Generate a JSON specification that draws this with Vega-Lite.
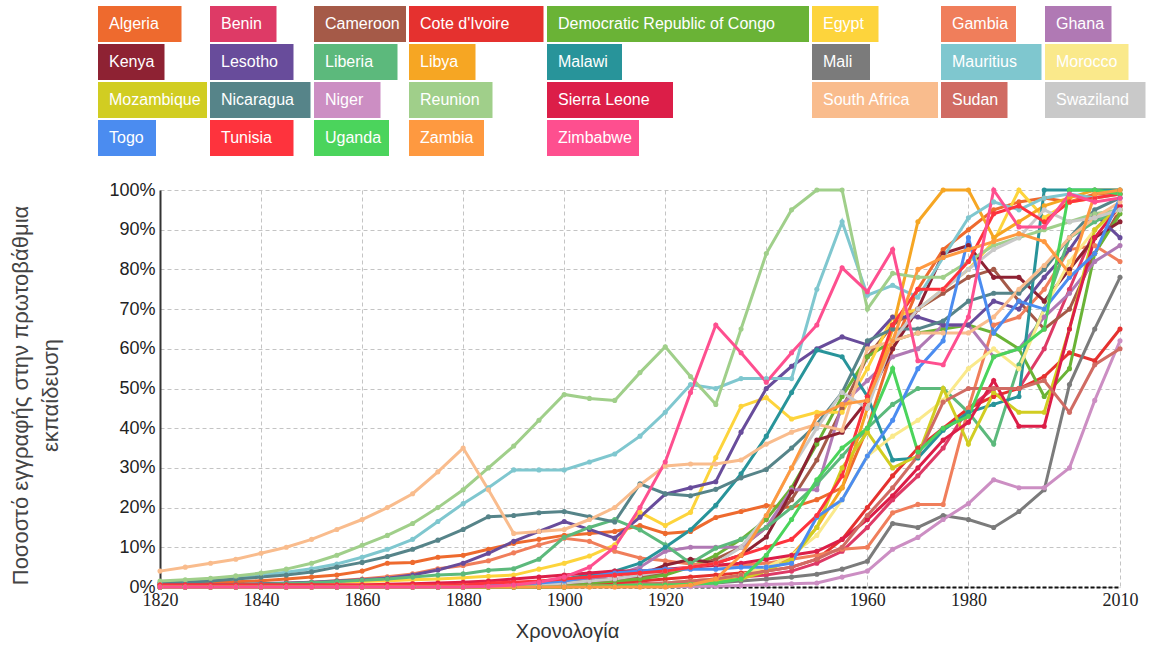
{
"$schema": "https://vega.github.io/schema/vega-lite/v6.json",
"width": 960,
"height": 397,
"autosize": {"type": "none"},
"padding": {"left": 160, "top": 190, "right": 34, "bottom": 65},
"background": "white",
"config": {"font": "Arial", "view": {"stroke": null}},
"data": {"values": [
{"c":"Algeria","y":1820,"v":0.5},{"c":"Algeria","y":1825,"v":0.8},{"c":"Algeria","y":1830,"v":1},{"c":"Algeria","y":1835,"v":1.3},{"c":"Algeria","y":1840,"v":1.6},{"c":"Algeria","y":1845,"v":2},{"c":"Algeria","y":1850,"v":2.5},{"c":"Algeria","y":1855,"v":3},{"c":"Algeria","y":1860,"v":4},{"c":"Algeria","y":1865,"v":6},{"c":"Algeria","y":1870,"v":6.2},{"c":"Algeria","y":1875,"v":7.5},{"c":"Algeria","y":1880,"v":8},{"c":"Algeria","y":1885,"v":9.5},{"c":"Algeria","y":1890,"v":11},{"c":"Algeria","y":1895,"v":12},{"c":"Algeria","y":1900,"v":13},{"c":"Algeria","y":1905,"v":13.5},{"c":"Algeria","y":1910,"v":14},{"c":"Algeria","y":1915,"v":15.5},{"c":"Algeria","y":1920,"v":13.5},{"c":"Algeria","y":1925,"v":14},{"c":"Algeria","y":1930,"v":17.5},{"c":"Algeria","y":1935,"v":19},{"c":"Algeria","y":1940,"v":20.5},{"c":"Algeria","y":1945,"v":20},{"c":"Algeria","y":1950,"v":22},{"c":"Algeria","y":1955,"v":25},{"c":"Algeria","y":1960,"v":40},{"c":"Algeria","y":1965,"v":60},{"c":"Algeria","y":1970,"v":75},{"c":"Algeria","y":1975,"v":85},{"c":"Algeria","y":1980,"v":90},{"c":"Algeria","y":1985,"v":95},{"c":"Algeria","y":1990,"v":97},{"c":"Algeria","y":1995,"v":98},{"c":"Algeria","y":2000,"v":97},{"c":"Algeria","y":2005,"v":99},{"c":"Algeria","y":2010,"v":99},
{"c":"Benin","y":1820,"v":0.1},{"c":"Benin","y":1825,"v":0.1},{"c":"Benin","y":1830,"v":0.1},{"c":"Benin","y":1835,"v":0.1},{"c":"Benin","y":1840,"v":0.1},{"c":"Benin","y":1845,"v":0.1},{"c":"Benin","y":1850,"v":0.1},{"c":"Benin","y":1855,"v":0.1},{"c":"Benin","y":1860,"v":0.1},{"c":"Benin","y":1865,"v":0.1},{"c":"Benin","y":1870,"v":0.1},{"c":"Benin","y":1875,"v":0.1},{"c":"Benin","y":1880,"v":0.1},{"c":"Benin","y":1885,"v":0.1},{"c":"Benin","y":1890,"v":0.1},{"c":"Benin","y":1895,"v":0.1},{"c":"Benin","y":1900,"v":0.1},{"c":"Benin","y":1905,"v":0.3},{"c":"Benin","y":1910,"v":0.5},{"c":"Benin","y":1915,"v":0.8},{"c":"Benin","y":1920,"v":1},{"c":"Benin","y":1925,"v":1.5},{"c":"Benin","y":1930,"v":2},{"c":"Benin","y":1935,"v":2.5},{"c":"Benin","y":1940,"v":3},{"c":"Benin","y":1945,"v":4},{"c":"Benin","y":1950,"v":6},{"c":"Benin","y":1955,"v":9},{"c":"Benin","y":1960,"v":15},{"c":"Benin","y":1965,"v":22},{"c":"Benin","y":1970,"v":28},{"c":"Benin","y":1975,"v":35},{"c":"Benin","y":1980,"v":45},{"c":"Benin","y":1985,"v":50},{"c":"Benin","y":1990,"v":50},{"c":"Benin","y":1995,"v":60},{"c":"Benin","y":2000,"v":75},{"c":"Benin","y":2005,"v":90},{"c":"Benin","y":2010,"v":96},
{"c":"Cameroon","y":1820,"v":0.1},{"c":"Cameroon","y":1825,"v":0.1},{"c":"Cameroon","y":1830,"v":0.1},{"c":"Cameroon","y":1835,"v":0.1},{"c":"Cameroon","y":1840,"v":0.1},{"c":"Cameroon","y":1845,"v":0.1},{"c":"Cameroon","y":1850,"v":0.1},{"c":"Cameroon","y":1855,"v":0.1},{"c":"Cameroon","y":1860,"v":0.1},{"c":"Cameroon","y":1865,"v":0.1},{"c":"Cameroon","y":1870,"v":0.1},{"c":"Cameroon","y":1875,"v":0.1},{"c":"Cameroon","y":1880,"v":0.1},{"c":"Cameroon","y":1885,"v":0.1},{"c":"Cameroon","y":1890,"v":0.1},{"c":"Cameroon","y":1895,"v":0.5},{"c":"Cameroon","y":1900,"v":1},{"c":"Cameroon","y":1905,"v":1.5},{"c":"Cameroon","y":1910,"v":2},{"c":"Cameroon","y":1915,"v":2.5},{"c":"Cameroon","y":1920,"v":3.5},{"c":"Cameroon","y":1925,"v":5},{"c":"Cameroon","y":1930,"v":7},{"c":"Cameroon","y":1935,"v":10},{"c":"Cameroon","y":1940,"v":15},{"c":"Cameroon","y":1945,"v":22},{"c":"Cameroon","y":1950,"v":32},{"c":"Cameroon","y":1955,"v":45},{"c":"Cameroon","y":1960,"v":58},{"c":"Cameroon","y":1965,"v":66},{"c":"Cameroon","y":1970,"v":70},{"c":"Cameroon","y":1975,"v":74},{"c":"Cameroon","y":1980,"v":78},{"c":"Cameroon","y":1985,"v":80},{"c":"Cameroon","y":1990,"v":72},{"c":"Cameroon","y":1995,"v":65},{"c":"Cameroon","y":2000,"v":70},{"c":"Cameroon","y":2005,"v":84},{"c":"Cameroon","y":2010,"v":95},
{"c":"Cote d'Ivoire","y":1820,"v":0},{"c":"Cote d'Ivoire","y":1825,"v":0},{"c":"Cote d'Ivoire","y":1830,"v":0},{"c":"Cote d'Ivoire","y":1835,"v":0},{"c":"Cote d'Ivoire","y":1840,"v":0},{"c":"Cote d'Ivoire","y":1845,"v":0},{"c":"Cote d'Ivoire","y":1850,"v":0},{"c":"Cote d'Ivoire","y":1855,"v":0},{"c":"Cote d'Ivoire","y":1860,"v":0},{"c":"Cote d'Ivoire","y":1865,"v":0},{"c":"Cote d'Ivoire","y":1870,"v":0},{"c":"Cote d'Ivoire","y":1875,"v":0},{"c":"Cote d'Ivoire","y":1880,"v":0},{"c":"Cote d'Ivoire","y":1885,"v":0},{"c":"Cote d'Ivoire","y":1890,"v":0},{"c":"Cote d'Ivoire","y":1895,"v":0},{"c":"Cote d'Ivoire","y":1900,"v":0},{"c":"Cote d'Ivoire","y":1905,"v":0.5},{"c":"Cote d'Ivoire","y":1910,"v":1},{"c":"Cote d'Ivoire","y":1915,"v":1.5},{"c":"Cote d'Ivoire","y":1920,"v":2},{"c":"Cote d'Ivoire","y":1925,"v":2.5},{"c":"Cote d'Ivoire","y":1930,"v":3},{"c":"Cote d'Ivoire","y":1935,"v":3.5},{"c":"Cote d'Ivoire","y":1940,"v":4},{"c":"Cote d'Ivoire","y":1945,"v":5},{"c":"Cote d'Ivoire","y":1950,"v":7},{"c":"Cote d'Ivoire","y":1955,"v":12},{"c":"Cote d'Ivoire","y":1960,"v":20},{"c":"Cote d'Ivoire","y":1965,"v":28},{"c":"Cote d'Ivoire","y":1970,"v":35},{"c":"Cote d'Ivoire","y":1975,"v":40},{"c":"Cote d'Ivoire","y":1980,"v":45},{"c":"Cote d'Ivoire","y":1985,"v":48},{"c":"Cote d'Ivoire","y":1990,"v":50},{"c":"Cote d'Ivoire","y":1995,"v":53},{"c":"Cote d'Ivoire","y":2000,"v":59},{"c":"Cote d'Ivoire","y":2005,"v":57},{"c":"Cote d'Ivoire","y":2010,"v":65},
{"c":"Democratic Republic of Congo","y":1820,"v":0},{"c":"Democratic Republic of Congo","y":1825,"v":0},{"c":"Democratic Republic of Congo","y":1830,"v":0},{"c":"Democratic Republic of Congo","y":1835,"v":0},{"c":"Democratic Republic of Congo","y":1840,"v":0},{"c":"Democratic Republic of Congo","y":1845,"v":0},{"c":"Democratic Republic of Congo","y":1850,"v":0},{"c":"Democratic Republic of Congo","y":1855,"v":0},{"c":"Democratic Republic of Congo","y":1860,"v":0},{"c":"Democratic Republic of Congo","y":1865,"v":0},{"c":"Democratic Republic of Congo","y":1870,"v":0},{"c":"Democratic Republic of Congo","y":1875,"v":0},{"c":"Democratic Republic of Congo","y":1880,"v":0},{"c":"Democratic Republic of Congo","y":1885,"v":0},{"c":"Democratic Republic of Congo","y":1890,"v":0},{"c":"Democratic Republic of Congo","y":1895,"v":0.3},{"c":"Democratic Republic of Congo","y":1900,"v":0.5},{"c":"Democratic Republic of Congo","y":1905,"v":1},{"c":"Democratic Republic of Congo","y":1910,"v":1.5},{"c":"Democratic Republic of Congo","y":1915,"v":2},{"c":"Democratic Republic of Congo","y":1920,"v":3},{"c":"Democratic Republic of Congo","y":1925,"v":5},{"c":"Democratic Republic of Congo","y":1930,"v":8},{"c":"Democratic Republic of Congo","y":1935,"v":12},{"c":"Democratic Republic of Congo","y":1940,"v":17},{"c":"Democratic Republic of Congo","y":1945,"v":25},{"c":"Democratic Republic of Congo","y":1950,"v":36},{"c":"Democratic Republic of Congo","y":1955,"v":48},{"c":"Democratic Republic of Congo","y":1960,"v":58},{"c":"Democratic Republic of Congo","y":1965,"v":62},{"c":"Democratic Republic of Congo","y":1970,"v":64},{"c":"Democratic Republic of Congo","y":1975,"v":65},{"c":"Democratic Republic of Congo","y":1980,"v":66},{"c":"Democratic Republic of Congo","y":1985,"v":64},{"c":"Democratic Republic of Congo","y":1990,"v":60},{"c":"Democratic Republic of Congo","y":1995,"v":48},{"c":"Democratic Republic of Congo","y":2000,"v":55},{"c":"Democratic Republic of Congo","y":2005,"v":84},{"c":"Democratic Republic of Congo","y":2010,"v":94},
{"c":"Egypt","y":1820,"v":0.2},{"c":"Egypt","y":1825,"v":0.3},{"c":"Egypt","y":1830,"v":0.4},{"c":"Egypt","y":1835,"v":0.5},{"c":"Egypt","y":1840,"v":0.6},{"c":"Egypt","y":1845,"v":0.8},{"c":"Egypt","y":1850,"v":1},{"c":"Egypt","y":1855,"v":1.2},{"c":"Egypt","y":1860,"v":1.4},{"c":"Egypt","y":1865,"v":1.6},{"c":"Egypt","y":1870,"v":1.8},{"c":"Egypt","y":1875,"v":2},{"c":"Egypt","y":1880,"v":2.3},{"c":"Egypt","y":1885,"v":2.7},{"c":"Egypt","y":1890,"v":3},{"c":"Egypt","y":1895,"v":4.5},{"c":"Egypt","y":1900,"v":6},{"c":"Egypt","y":1905,"v":7.8},{"c":"Egypt","y":1910,"v":10.6},{"c":"Egypt","y":1915,"v":18.8},{"c":"Egypt","y":1920,"v":15.5},{"c":"Egypt","y":1925,"v":18.8},{"c":"Egypt","y":1930,"v":32.6},{"c":"Egypt","y":1935,"v":45.5},{"c":"Egypt","y":1940,"v":47.7},{"c":"Egypt","y":1945,"v":42.3},{"c":"Egypt","y":1950,"v":44},{"c":"Egypt","y":1955,"v":44},{"c":"Egypt","y":1960,"v":55},{"c":"Egypt","y":1965,"v":68},{"c":"Egypt","y":1970,"v":70},{"c":"Egypt","y":1975,"v":75},{"c":"Egypt","y":1980,"v":80},{"c":"Egypt","y":1985,"v":87},{"c":"Egypt","y":1990,"v":100},{"c":"Egypt","y":1995,"v":93},{"c":"Egypt","y":2000,"v":97},{"c":"Egypt","y":2005,"v":98},{"c":"Egypt","y":2010,"v":99},
{"c":"Gambia","y":1820,"v":0.2},{"c":"Gambia","y":1825,"v":0.3},{"c":"Gambia","y":1830,"v":0.4},{"c":"Gambia","y":1835,"v":0.5},{"c":"Gambia","y":1840,"v":0.7},{"c":"Gambia","y":1845,"v":0.9},{"c":"Gambia","y":1850,"v":1.2},{"c":"Gambia","y":1855,"v":1.6},{"c":"Gambia","y":1860,"v":2},{"c":"Gambia","y":1865,"v":2.6},{"c":"Gambia","y":1870,"v":3.3},{"c":"Gambia","y":1875,"v":4.6},{"c":"Gambia","y":1880,"v":5.4},{"c":"Gambia","y":1885,"v":6.6},{"c":"Gambia","y":1890,"v":8.6},{"c":"Gambia","y":1895,"v":10.6},{"c":"Gambia","y":1900,"v":12.3},{"c":"Gambia","y":1905,"v":11.5},{"c":"Gambia","y":1910,"v":9},{"c":"Gambia","y":1915,"v":7.3},{"c":"Gambia","y":1920,"v":6.6},{"c":"Gambia","y":1925,"v":5.8},{"c":"Gambia","y":1930,"v":5.5},{"c":"Gambia","y":1935,"v":5.5},{"c":"Gambia","y":1940,"v":6},{"c":"Gambia","y":1945,"v":7},{"c":"Gambia","y":1950,"v":8},{"c":"Gambia","y":1955,"v":9.5},{"c":"Gambia","y":1960,"v":10},{"c":"Gambia","y":1965,"v":18.7},{"c":"Gambia","y":1970,"v":20.8},{"c":"Gambia","y":1975,"v":20.8},{"c":"Gambia","y":1980,"v":45},{"c":"Gambia","y":1985,"v":66},{"c":"Gambia","y":1990,"v":68},{"c":"Gambia","y":1995,"v":75},{"c":"Gambia","y":2000,"v":85},{"c":"Gambia","y":2005,"v":86},{"c":"Gambia","y":2010,"v":82},
{"c":"Ghana","y":1820,"v":0.2},{"c":"Ghana","y":1825,"v":0.2},{"c":"Ghana","y":1830,"v":0.2},{"c":"Ghana","y":1835,"v":0.2},{"c":"Ghana","y":1840,"v":0.2},{"c":"Ghana","y":1845,"v":0.2},{"c":"Ghana","y":1850,"v":0.2},{"c":"Ghana","y":1855,"v":0.2},{"c":"Ghana","y":1860,"v":0.2},{"c":"Ghana","y":1865,"v":0.2},{"c":"Ghana","y":1870,"v":0.2},{"c":"Ghana","y":1875,"v":0.2},{"c":"Ghana","y":1880,"v":0.2},{"c":"Ghana","y":1885,"v":0.3},{"c":"Ghana","y":1890,"v":0.5},{"c":"Ghana","y":1895,"v":0.8},{"c":"Ghana","y":1900,"v":1},{"c":"Ghana","y":1905,"v":2},{"c":"Ghana","y":1910,"v":3},{"c":"Ghana","y":1915,"v":5},{"c":"Ghana","y":1920,"v":9},{"c":"Ghana","y":1925,"v":10},{"c":"Ghana","y":1930,"v":10},{"c":"Ghana","y":1935,"v":10},{"c":"Ghana","y":1940,"v":15},{"c":"Ghana","y":1945,"v":24.5},{"c":"Ghana","y":1950,"v":24.5},{"c":"Ghana","y":1955,"v":46},{"c":"Ghana","y":1960,"v":52},{"c":"Ghana","y":1965,"v":58},{"c":"Ghana","y":1970,"v":60},{"c":"Ghana","y":1975,"v":66},{"c":"Ghana","y":1980,"v":66},{"c":"Ghana","y":1985,"v":58},{"c":"Ghana","y":1990,"v":60},{"c":"Ghana","y":1995,"v":68},{"c":"Ghana","y":2000,"v":74},{"c":"Ghana","y":2005,"v":82},{"c":"Ghana","y":2010,"v":86},
{"c":"Kenya","y":1820,"v":0.2},{"c":"Kenya","y":1825,"v":0.2},{"c":"Kenya","y":1830,"v":0.2},{"c":"Kenya","y":1835,"v":0.2},{"c":"Kenya","y":1840,"v":0.2},{"c":"Kenya","y":1845,"v":0.2},{"c":"Kenya","y":1850,"v":0.2},{"c":"Kenya","y":1855,"v":0.2},{"c":"Kenya","y":1860,"v":0.2},{"c":"Kenya","y":1865,"v":0.2},{"c":"Kenya","y":1870,"v":0.2},{"c":"Kenya","y":1875,"v":0.2},{"c":"Kenya","y":1880,"v":0.2},{"c":"Kenya","y":1885,"v":0.2},{"c":"Kenya","y":1890,"v":0.2},{"c":"Kenya","y":1895,"v":0.5},{"c":"Kenya","y":1900,"v":1},{"c":"Kenya","y":1905,"v":1.5},{"c":"Kenya","y":1910,"v":2},{"c":"Kenya","y":1915,"v":3},{"c":"Kenya","y":1920,"v":5.5},{"c":"Kenya","y":1925,"v":7},{"c":"Kenya","y":1930,"v":6},{"c":"Kenya","y":1935,"v":8},{"c":"Kenya","y":1940,"v":12.6},{"c":"Kenya","y":1945,"v":24},{"c":"Kenya","y":1950,"v":37},{"c":"Kenya","y":1955,"v":39},{"c":"Kenya","y":1960,"v":47},{"c":"Kenya","y":1965,"v":60},{"c":"Kenya","y":1970,"v":70},{"c":"Kenya","y":1975,"v":84},{"c":"Kenya","y":1980,"v":86},{"c":"Kenya","y":1985,"v":78},{"c":"Kenya","y":1990,"v":78},{"c":"Kenya","y":1995,"v":72},{"c":"Kenya","y":2000,"v":80},{"c":"Kenya","y":2005,"v":88},{"c":"Kenya","y":2010,"v":92},
{"c":"Lesotho","y":1820,"v":0.3},{"c":"Lesotho","y":1825,"v":0.4},{"c":"Lesotho","y":1830,"v":0.5},{"c":"Lesotho","y":1835,"v":0.6},{"c":"Lesotho","y":1840,"v":0.8},{"c":"Lesotho","y":1845,"v":1},{"c":"Lesotho","y":1850,"v":1.2},{"c":"Lesotho","y":1855,"v":1.5},{"c":"Lesotho","y":1860,"v":1.8},{"c":"Lesotho","y":1865,"v":2.2},{"c":"Lesotho","y":1870,"v":3},{"c":"Lesotho","y":1875,"v":4.3},{"c":"Lesotho","y":1880,"v":6},{"c":"Lesotho","y":1885,"v":8.5},{"c":"Lesotho","y":1890,"v":11.5},{"c":"Lesotho","y":1895,"v":14},{"c":"Lesotho","y":1900,"v":16.5},{"c":"Lesotho","y":1905,"v":14.5},{"c":"Lesotho","y":1910,"v":12.3},{"c":"Lesotho","y":1915,"v":17.6},{"c":"Lesotho","y":1920,"v":23.4},{"c":"Lesotho","y":1925,"v":25},{"c":"Lesotho","y":1930,"v":26.5},{"c":"Lesotho","y":1935,"v":39},{"c":"Lesotho","y":1940,"v":50},{"c":"Lesotho","y":1945,"v":55.6},{"c":"Lesotho","y":1950,"v":60},{"c":"Lesotho","y":1955,"v":63},{"c":"Lesotho","y":1960,"v":61},{"c":"Lesotho","y":1965,"v":68},{"c":"Lesotho","y":1970,"v":68},{"c":"Lesotho","y":1975,"v":66},{"c":"Lesotho","y":1980,"v":66},{"c":"Lesotho","y":1985,"v":72},{"c":"Lesotho","y":1990,"v":70},{"c":"Lesotho","y":1995,"v":78},{"c":"Lesotho","y":2000,"v":85},{"c":"Lesotho","y":2005,"v":94},{"c":"Lesotho","y":2010,"v":88},
{"c":"Liberia","y":1820,"v":0.3},{"c":"Liberia","y":1825,"v":0.4},{"c":"Liberia","y":1830,"v":0.5},{"c":"Liberia","y":1835,"v":0.6},{"c":"Liberia","y":1840,"v":0.7},{"c":"Liberia","y":1845,"v":0.9},{"c":"Liberia","y":1850,"v":1.1},{"c":"Liberia","y":1855,"v":1.4},{"c":"Liberia","y":1860,"v":1.7},{"c":"Liberia","y":1865,"v":2},{"c":"Liberia","y":1870,"v":2.5},{"c":"Liberia","y":1875,"v":3},{"c":"Liberia","y":1880,"v":3.3},{"c":"Liberia","y":1885,"v":4.2},{"c":"Liberia","y":1890,"v":4.6},{"c":"Liberia","y":1895,"v":7},{"c":"Liberia","y":1900,"v":12.5},{"c":"Liberia","y":1905,"v":15},{"c":"Liberia","y":1910,"v":17},{"c":"Liberia","y":1915,"v":14.4},{"c":"Liberia","y":1920,"v":10.6},{"c":"Liberia","y":1925,"v":6},{"c":"Liberia","y":1930,"v":9.8},{"c":"Liberia","y":1935,"v":12},{"c":"Liberia","y":1940,"v":15},{"c":"Liberia","y":1945,"v":20},{"c":"Liberia","y":1950,"v":26},{"c":"Liberia","y":1955,"v":33},{"c":"Liberia","y":1960,"v":40},{"c":"Liberia","y":1965,"v":46},{"c":"Liberia","y":1970,"v":50},{"c":"Liberia","y":1975,"v":50},{"c":"Liberia","y":1980,"v":44},{"c":"Liberia","y":1985,"v":36},{"c":"Liberia","y":1990,"v":56},{"c":"Liberia","y":1995,"v":70},{"c":"Liberia","y":2000,"v":88},{"c":"Liberia","y":2005,"v":92},{"c":"Liberia","y":2010,"v":95},
{"c":"Libya","y":1820,"v":0.2},{"c":"Libya","y":1825,"v":0.2},{"c":"Libya","y":1830,"v":0.2},{"c":"Libya","y":1835,"v":0.2},{"c":"Libya","y":1840,"v":0.2},{"c":"Libya","y":1845,"v":0.2},{"c":"Libya","y":1850,"v":0.2},{"c":"Libya","y":1855,"v":0.2},{"c":"Libya","y":1860,"v":0.2},{"c":"Libya","y":1865,"v":0.2},{"c":"Libya","y":1870,"v":0.2},{"c":"Libya","y":1875,"v":0.2},{"c":"Libya","y":1880,"v":0.2},{"c":"Libya","y":1885,"v":0.2},{"c":"Libya","y":1890,"v":0.2},{"c":"Libya","y":1895,"v":0.2},{"c":"Libya","y":1900,"v":0.2},{"c":"Libya","y":1905,"v":0.2},{"c":"Libya","y":1910,"v":0.2},{"c":"Libya","y":1915,"v":0.2},{"c":"Libya","y":1920,"v":0.5},{"c":"Libya","y":1925,"v":1},{"c":"Libya","y":1930,"v":2},{"c":"Libya","y":1935,"v":3},{"c":"Libya","y":1940,"v":5},{"c":"Libya","y":1945,"v":8},{"c":"Libya","y":1950,"v":15},{"c":"Libya","y":1955,"v":25},{"c":"Libya","y":1960,"v":45},{"c":"Libya","y":1965,"v":65},{"c":"Libya","y":1970,"v":92},{"c":"Libya","y":1975,"v":100},{"c":"Libya","y":1980,"v":100},{"c":"Libya","y":1985,"v":88},{"c":"Libya","y":1990,"v":92},{"c":"Libya","y":1995,"v":96},{"c":"Libya","y":2000,"v":98},{"c":"Libya","y":2005,"v":100},{"c":"Libya","y":2010,"v":100},
{"c":"Malawi","y":1820,"v":0.1},{"c":"Malawi","y":1825,"v":0.1},{"c":"Malawi","y":1830,"v":0.1},{"c":"Malawi","y":1835,"v":0.1},{"c":"Malawi","y":1840,"v":0.1},{"c":"Malawi","y":1845,"v":0.1},{"c":"Malawi","y":1850,"v":0.1},{"c":"Malawi","y":1855,"v":0.1},{"c":"Malawi","y":1860,"v":0.1},{"c":"Malawi","y":1865,"v":0.1},{"c":"Malawi","y":1870,"v":0.1},{"c":"Malawi","y":1875,"v":0.1},{"c":"Malawi","y":1880,"v":0.1},{"c":"Malawi","y":1885,"v":0.3},{"c":"Malawi","y":1890,"v":0.5},{"c":"Malawi","y":1895,"v":1},{"c":"Malawi","y":1900,"v":2},{"c":"Malawi","y":1905,"v":3},{"c":"Malawi","y":1910,"v":4},{"c":"Malawi","y":1915,"v":6},{"c":"Malawi","y":1920,"v":10},{"c":"Malawi","y":1925,"v":14.4},{"c":"Malawi","y":1930,"v":20.6},{"c":"Malawi","y":1935,"v":28.5},{"c":"Malawi","y":1940,"v":38},{"c":"Malawi","y":1945,"v":49},{"c":"Malawi","y":1950,"v":59.7},{"c":"Malawi","y":1955,"v":58},{"c":"Malawi","y":1960,"v":48},{"c":"Malawi","y":1965,"v":32},{"c":"Malawi","y":1970,"v":32.5},{"c":"Malawi","y":1975,"v":39.5},{"c":"Malawi","y":1980,"v":44},{"c":"Malawi","y":1985,"v":46},{"c":"Malawi","y":1990,"v":48},{"c":"Malawi","y":1995,"v":100},{"c":"Malawi","y":2000,"v":100},{"c":"Malawi","y":2005,"v":100},{"c":"Malawi","y":2010,"v":100},
{"c":"Mali","y":1820,"v":0},{"c":"Mali","y":1825,"v":0},{"c":"Mali","y":1830,"v":0},{"c":"Mali","y":1835,"v":0},{"c":"Mali","y":1840,"v":0},{"c":"Mali","y":1845,"v":0},{"c":"Mali","y":1850,"v":0},{"c":"Mali","y":1855,"v":0},{"c":"Mali","y":1860,"v":0},{"c":"Mali","y":1865,"v":0},{"c":"Mali","y":1870,"v":0},{"c":"Mali","y":1875,"v":0},{"c":"Mali","y":1880,"v":0},{"c":"Mali","y":1885,"v":0},{"c":"Mali","y":1890,"v":0},{"c":"Mali","y":1895,"v":0},{"c":"Mali","y":1900,"v":0.1},{"c":"Mali","y":1905,"v":0.2},{"c":"Mali","y":1910,"v":0.3},{"c":"Mali","y":1915,"v":0.4},{"c":"Mali","y":1920,"v":0.5},{"c":"Mali","y":1925,"v":0.7},{"c":"Mali","y":1930,"v":1},{"c":"Mali","y":1935,"v":1.5},{"c":"Mali","y":1940,"v":2},{"c":"Mali","y":1945,"v":2.5},{"c":"Mali","y":1950,"v":3.2},{"c":"Mali","y":1955,"v":4.5},{"c":"Mali","y":1960,"v":6.5},{"c":"Mali","y":1965,"v":16},{"c":"Mali","y":1970,"v":15},{"c":"Mali","y":1975,"v":18},{"c":"Mali","y":1980,"v":17},{"c":"Mali","y":1985,"v":15},{"c":"Mali","y":1990,"v":19},{"c":"Mali","y":1995,"v":24.5},{"c":"Mali","y":2000,"v":51},{"c":"Mali","y":2005,"v":65},{"c":"Mali","y":2010,"v":78},
{"c":"Mauritius","y":1820,"v":1},{"c":"Mauritius","y":1825,"v":1.4},{"c":"Mauritius","y":1830,"v":1.8},{"c":"Mauritius","y":1835,"v":2.3},{"c":"Mauritius","y":1840,"v":3},{"c":"Mauritius","y":1845,"v":3.7},{"c":"Mauritius","y":1850,"v":4.6},{"c":"Mauritius","y":1855,"v":5.8},{"c":"Mauritius","y":1860,"v":7.5},{"c":"Mauritius","y":1865,"v":9.5},{"c":"Mauritius","y":1870,"v":12},{"c":"Mauritius","y":1875,"v":16.5},{"c":"Mauritius","y":1880,"v":21},{"c":"Mauritius","y":1885,"v":25},{"c":"Mauritius","y":1890,"v":29.5},{"c":"Mauritius","y":1895,"v":29.5},{"c":"Mauritius","y":1900,"v":29.5},{"c":"Mauritius","y":1905,"v":31.5},{"c":"Mauritius","y":1910,"v":33.5},{"c":"Mauritius","y":1915,"v":38},{"c":"Mauritius","y":1920,"v":44},{"c":"Mauritius","y":1925,"v":51},{"c":"Mauritius","y":1930,"v":50},{"c":"Mauritius","y":1935,"v":52.5},{"c":"Mauritius","y":1940,"v":52.5},{"c":"Mauritius","y":1945,"v":52.5},{"c":"Mauritius","y":1950,"v":75},{"c":"Mauritius","y":1955,"v":92},{"c":"Mauritius","y":1960,"v":73.5},{"c":"Mauritius","y":1965,"v":76},{"c":"Mauritius","y":1970,"v":73},{"c":"Mauritius","y":1975,"v":83},{"c":"Mauritius","y":1980,"v":93},{"c":"Mauritius","y":1985,"v":97},{"c":"Mauritius","y":1990,"v":95},{"c":"Mauritius","y":1995,"v":98},{"c":"Mauritius","y":2000,"v":99},{"c":"Mauritius","y":2005,"v":98},{"c":"Mauritius","y":2010,"v":99},
{"c":"Morocco","y":1820,"v":0.1},{"c":"Morocco","y":1825,"v":0.1},{"c":"Morocco","y":1830,"v":0.1},{"c":"Morocco","y":1835,"v":0.1},{"c":"Morocco","y":1840,"v":0.1},{"c":"Morocco","y":1845,"v":0.1},{"c":"Morocco","y":1850,"v":0.1},{"c":"Morocco","y":1855,"v":0.1},{"c":"Morocco","y":1860,"v":0.1},{"c":"Morocco","y":1865,"v":0.1},{"c":"Morocco","y":1870,"v":0.1},{"c":"Morocco","y":1875,"v":0.1},{"c":"Morocco","y":1880,"v":0.1},{"c":"Morocco","y":1885,"v":0.1},{"c":"Morocco","y":1890,"v":0.1},{"c":"Morocco","y":1895,"v":0.1},{"c":"Morocco","y":1900,"v":0.1},{"c":"Morocco","y":1905,"v":0.1},{"c":"Morocco","y":1910,"v":0.1},{"c":"Morocco","y":1915,"v":0.5},{"c":"Morocco","y":1920,"v":1},{"c":"Morocco","y":1925,"v":1.5},{"c":"Morocco","y":1930,"v":2},{"c":"Morocco","y":1935,"v":3},{"c":"Morocco","y":1940,"v":5},{"c":"Morocco","y":1945,"v":8},{"c":"Morocco","y":1950,"v":13},{"c":"Morocco","y":1955,"v":22},{"c":"Morocco","y":1960,"v":33},{"c":"Morocco","y":1965,"v":38},{"c":"Morocco","y":1970,"v":42},{"c":"Morocco","y":1975,"v":47},{"c":"Morocco","y":1980,"v":55},{"c":"Morocco","y":1985,"v":60},{"c":"Morocco","y":1990,"v":55},{"c":"Morocco","y":1995,"v":70},{"c":"Morocco","y":2000,"v":82},{"c":"Morocco","y":2005,"v":90},{"c":"Morocco","y":2010,"v":95},
{"c":"Mozambique","y":1820,"v":0},{"c":"Mozambique","y":1825,"v":0},{"c":"Mozambique","y":1830,"v":0},{"c":"Mozambique","y":1835,"v":0},{"c":"Mozambique","y":1840,"v":0},{"c":"Mozambique","y":1845,"v":0},{"c":"Mozambique","y":1850,"v":0},{"c":"Mozambique","y":1855,"v":0},{"c":"Mozambique","y":1860,"v":0},{"c":"Mozambique","y":1865,"v":0},{"c":"Mozambique","y":1870,"v":0},{"c":"Mozambique","y":1875,"v":0},{"c":"Mozambique","y":1880,"v":0},{"c":"Mozambique","y":1885,"v":0},{"c":"Mozambique","y":1890,"v":0},{"c":"Mozambique","y":1895,"v":0},{"c":"Mozambique","y":1900,"v":0},{"c":"Mozambique","y":1905,"v":0.2},{"c":"Mozambique","y":1910,"v":0.3},{"c":"Mozambique","y":1915,"v":0.5},{"c":"Mozambique","y":1920,"v":0.8},{"c":"Mozambique","y":1925,"v":1},{"c":"Mozambique","y":1930,"v":1.5},{"c":"Mozambique","y":1935,"v":2},{"c":"Mozambique","y":1940,"v":4},{"c":"Mozambique","y":1945,"v":7},{"c":"Mozambique","y":1950,"v":15},{"c":"Mozambique","y":1955,"v":30},{"c":"Mozambique","y":1960,"v":39},{"c":"Mozambique","y":1965,"v":30},{"c":"Mozambique","y":1970,"v":33},{"c":"Mozambique","y":1975,"v":50},{"c":"Mozambique","y":1980,"v":36},{"c":"Mozambique","y":1985,"v":49},{"c":"Mozambique","y":1990,"v":44},{"c":"Mozambique","y":1995,"v":44},{"c":"Mozambique","y":2000,"v":65},{"c":"Mozambique","y":2005,"v":90},{"c":"Mozambique","y":2010,"v":96},
{"c":"Nicaragua","y":1820,"v":1},{"c":"Nicaragua","y":1825,"v":1.2},{"c":"Nicaragua","y":1830,"v":1.5},{"c":"Nicaragua","y":1835,"v":2},{"c":"Nicaragua","y":1840,"v":2.5},{"c":"Nicaragua","y":1845,"v":3},{"c":"Nicaragua","y":1850,"v":3.8},{"c":"Nicaragua","y":1855,"v":5},{"c":"Nicaragua","y":1860,"v":6.2},{"c":"Nicaragua","y":1865,"v":7.7},{"c":"Nicaragua","y":1870,"v":9.5},{"c":"Nicaragua","y":1875,"v":11.8},{"c":"Nicaragua","y":1880,"v":14.5},{"c":"Nicaragua","y":1885,"v":17.7},{"c":"Nicaragua","y":1890,"v":18},{"c":"Nicaragua","y":1895,"v":18.7},{"c":"Nicaragua","y":1900,"v":19},{"c":"Nicaragua","y":1905,"v":17.7},{"c":"Nicaragua","y":1910,"v":16.4},{"c":"Nicaragua","y":1915,"v":26},{"c":"Nicaragua","y":1920,"v":23.5},{"c":"Nicaragua","y":1925,"v":23},{"c":"Nicaragua","y":1930,"v":24.6},{"c":"Nicaragua","y":1935,"v":27.5},{"c":"Nicaragua","y":1940,"v":29.6},{"c":"Nicaragua","y":1945,"v":35},{"c":"Nicaragua","y":1950,"v":41},{"c":"Nicaragua","y":1955,"v":49},{"c":"Nicaragua","y":1960,"v":62},{"c":"Nicaragua","y":1965,"v":65},{"c":"Nicaragua","y":1970,"v":65},{"c":"Nicaragua","y":1975,"v":67},{"c":"Nicaragua","y":1980,"v":72},{"c":"Nicaragua","y":1985,"v":74},{"c":"Nicaragua","y":1990,"v":74},{"c":"Nicaragua","y":1995,"v":80},{"c":"Nicaragua","y":2000,"v":88},{"c":"Nicaragua","y":2005,"v":95},{"c":"Nicaragua","y":2010,"v":98},
{"c":"Niger","y":1820,"v":0.1},{"c":"Niger","y":1825,"v":0.1},{"c":"Niger","y":1830,"v":0.1},{"c":"Niger","y":1835,"v":0.1},{"c":"Niger","y":1840,"v":0.1},{"c":"Niger","y":1845,"v":0.1},{"c":"Niger","y":1850,"v":0.1},{"c":"Niger","y":1855,"v":0.1},{"c":"Niger","y":1860,"v":0.1},{"c":"Niger","y":1865,"v":0.1},{"c":"Niger","y":1870,"v":0.1},{"c":"Niger","y":1875,"v":0.1},{"c":"Niger","y":1880,"v":0.1},{"c":"Niger","y":1885,"v":0.1},{"c":"Niger","y":1890,"v":0.1},{"c":"Niger","y":1895,"v":0.1},{"c":"Niger","y":1900,"v":0.1},{"c":"Niger","y":1905,"v":0.1},{"c":"Niger","y":1910,"v":0.1},{"c":"Niger","y":1915,"v":0.1},{"c":"Niger","y":1920,"v":0.1},{"c":"Niger","y":1925,"v":0.1},{"c":"Niger","y":1930,"v":0.2},{"c":"Niger","y":1935,"v":0.4},{"c":"Niger","y":1940,"v":0.6},{"c":"Niger","y":1945,"v":0.8},{"c":"Niger","y":1950,"v":1},{"c":"Niger","y":1955,"v":2.5},{"c":"Niger","y":1960,"v":4},{"c":"Niger","y":1965,"v":9.5},{"c":"Niger","y":1970,"v":12.5},{"c":"Niger","y":1975,"v":17},{"c":"Niger","y":1980,"v":21},{"c":"Niger","y":1985,"v":27},{"c":"Niger","y":1990,"v":25},{"c":"Niger","y":1995,"v":25},{"c":"Niger","y":2000,"v":30},{"c":"Niger","y":2005,"v":47},{"c":"Niger","y":2010,"v":62},
{"c":"Reunion","y":1820,"v":1.5},{"c":"Reunion","y":1825,"v":1.8},{"c":"Reunion","y":1830,"v":2.2},{"c":"Reunion","y":1835,"v":2.8},{"c":"Reunion","y":1840,"v":3.5},{"c":"Reunion","y":1845,"v":4.5},{"c":"Reunion","y":1850,"v":6},{"c":"Reunion","y":1855,"v":8},{"c":"Reunion","y":1860,"v":10.5},{"c":"Reunion","y":1865,"v":13},{"c":"Reunion","y":1870,"v":16},{"c":"Reunion","y":1875,"v":20},{"c":"Reunion","y":1880,"v":24.5},{"c":"Reunion","y":1885,"v":30},{"c":"Reunion","y":1890,"v":35.5},{"c":"Reunion","y":1895,"v":42},{"c":"Reunion","y":1900,"v":48.5},{"c":"Reunion","y":1905,"v":47.5},{"c":"Reunion","y":1910,"v":47},{"c":"Reunion","y":1915,"v":54},{"c":"Reunion","y":1920,"v":60.5},{"c":"Reunion","y":1925,"v":53},{"c":"Reunion","y":1930,"v":46},{"c":"Reunion","y":1935,"v":65},{"c":"Reunion","y":1940,"v":84},{"c":"Reunion","y":1945,"v":95},{"c":"Reunion","y":1950,"v":100},{"c":"Reunion","y":1955,"v":100},{"c":"Reunion","y":1960,"v":70},{"c":"Reunion","y":1965,"v":79},{"c":"Reunion","y":1970,"v":78},{"c":"Reunion","y":1975,"v":78},{"c":"Reunion","y":1980,"v":82},{"c":"Reunion","y":1985,"v":86},{"c":"Reunion","y":1990,"v":88},{"c":"Reunion","y":1995,"v":90},{"c":"Reunion","y":2000,"v":92},{"c":"Reunion","y":2005,"v":94},{"c":"Reunion","y":2010,"v":95},
{"c":"Sierra Leone","y":1820,"v":0.5},{"c":"Sierra Leone","y":1825,"v":0.5},{"c":"Sierra Leone","y":1830,"v":0.5},{"c":"Sierra Leone","y":1835,"v":0.5},{"c":"Sierra Leone","y":1840,"v":0.5},{"c":"Sierra Leone","y":1845,"v":0.5},{"c":"Sierra Leone","y":1850,"v":0.5},{"c":"Sierra Leone","y":1855,"v":0.5},{"c":"Sierra Leone","y":1860,"v":0.5},{"c":"Sierra Leone","y":1865,"v":0.7},{"c":"Sierra Leone","y":1870,"v":0.8},{"c":"Sierra Leone","y":1875,"v":1},{"c":"Sierra Leone","y":1880,"v":1.2},{"c":"Sierra Leone","y":1885,"v":1.5},{"c":"Sierra Leone","y":1890,"v":2},{"c":"Sierra Leone","y":1895,"v":2.5},{"c":"Sierra Leone","y":1900,"v":3},{"c":"Sierra Leone","y":1905,"v":3.5},{"c":"Sierra Leone","y":1910,"v":4},{"c":"Sierra Leone","y":1915,"v":4},{"c":"Sierra Leone","y":1920,"v":4.5},{"c":"Sierra Leone","y":1925,"v":5},{"c":"Sierra Leone","y":1930,"v":5.5},{"c":"Sierra Leone","y":1935,"v":6},{"c":"Sierra Leone","y":1940,"v":7},{"c":"Sierra Leone","y":1945,"v":8},{"c":"Sierra Leone","y":1950,"v":9},{"c":"Sierra Leone","y":1955,"v":12},{"c":"Sierra Leone","y":1960,"v":17},{"c":"Sierra Leone","y":1965,"v":23},{"c":"Sierra Leone","y":1970,"v":30},{"c":"Sierra Leone","y":1975,"v":37},{"c":"Sierra Leone","y":1980,"v":41.5},{"c":"Sierra Leone","y":1985,"v":52},{"c":"Sierra Leone","y":1990,"v":40.5},{"c":"Sierra Leone","y":1995,"v":40.5},{"c":"Sierra Leone","y":2000,"v":65},{"c":"Sierra Leone","y":2005,"v":88},{"c":"Sierra Leone","y":2010,"v":96},
{"c":"South Africa","y":1820,"v":4},{"c":"South Africa","y":1825,"v":5},{"c":"South Africa","y":1830,"v":6},{"c":"South Africa","y":1835,"v":7},{"c":"South Africa","y":1840,"v":8.5},{"c":"South Africa","y":1845,"v":10},{"c":"South Africa","y":1850,"v":12},{"c":"South Africa","y":1855,"v":14.5},{"c":"South Africa","y":1860,"v":17},{"c":"South Africa","y":1865,"v":20},{"c":"South Africa","y":1870,"v":23.5},{"c":"South Africa","y":1875,"v":29},{"c":"South Africa","y":1880,"v":35},{"c":"South Africa","y":1885,"v":24.5},{"c":"South Africa","y":1890,"v":13.5},{"c":"South Africa","y":1895,"v":14},{"c":"South Africa","y":1900,"v":14.5},{"c":"South Africa","y":1905,"v":17},{"c":"South Africa","y":1910,"v":20},{"c":"South Africa","y":1915,"v":25.7},{"c":"South Africa","y":1920,"v":30.5},{"c":"South Africa","y":1925,"v":31},{"c":"South Africa","y":1930,"v":31},{"c":"South Africa","y":1935,"v":32},{"c":"South Africa","y":1940,"v":36},{"c":"South Africa","y":1945,"v":39},{"c":"South Africa","y":1950,"v":41},{"c":"South Africa","y":1955,"v":39.5},{"c":"South Africa","y":1960,"v":60},{"c":"South Africa","y":1965,"v":62},{"c":"South Africa","y":1970,"v":64},{"c":"South Africa","y":1975,"v":64},{"c":"South Africa","y":1980,"v":64},{"c":"South Africa","y":1985,"v":68},{"c":"South Africa","y":1990,"v":75},{"c":"South Africa","y":1995,"v":81},{"c":"South Africa","y":2000,"v":88},{"c":"South Africa","y":2005,"v":93},{"c":"South Africa","y":2010,"v":97},
{"c":"Sudan","y":1820,"v":0},{"c":"Sudan","y":1825,"v":0},{"c":"Sudan","y":1830,"v":0},{"c":"Sudan","y":1835,"v":0},{"c":"Sudan","y":1840,"v":0},{"c":"Sudan","y":1845,"v":0},{"c":"Sudan","y":1850,"v":0},{"c":"Sudan","y":1855,"v":0},{"c":"Sudan","y":1860,"v":0},{"c":"Sudan","y":1865,"v":0},{"c":"Sudan","y":1870,"v":0},{"c":"Sudan","y":1875,"v":0},{"c":"Sudan","y":1880,"v":0},{"c":"Sudan","y":1885,"v":0},{"c":"Sudan","y":1890,"v":0},{"c":"Sudan","y":1895,"v":0},{"c":"Sudan","y":1900,"v":0},{"c":"Sudan","y":1905,"v":0.2},{"c":"Sudan","y":1910,"v":0.4},{"c":"Sudan","y":1915,"v":0.6},{"c":"Sudan","y":1920,"v":1},{"c":"Sudan","y":1925,"v":1.5},{"c":"Sudan","y":1930,"v":2},{"c":"Sudan","y":1935,"v":3},{"c":"Sudan","y":1940,"v":4},{"c":"Sudan","y":1945,"v":5},{"c":"Sudan","y":1950,"v":7},{"c":"Sudan","y":1955,"v":10},{"c":"Sudan","y":1960,"v":18},{"c":"Sudan","y":1965,"v":25},{"c":"Sudan","y":1970,"v":33},{"c":"Sudan","y":1975,"v":46.6},{"c":"Sudan","y":1980,"v":50},{"c":"Sudan","y":1985,"v":50},{"c":"Sudan","y":1990,"v":50},{"c":"Sudan","y":1995,"v":52},{"c":"Sudan","y":2000,"v":44},{"c":"Sudan","y":2005,"v":56},{"c":"Sudan","y":2010,"v":60},
{"c":"Swaziland","y":1820,"v":0.2},{"c":"Swaziland","y":1825,"v":0.2},{"c":"Swaziland","y":1830,"v":0.2},{"c":"Swaziland","y":1835,"v":0.2},{"c":"Swaziland","y":1840,"v":0.2},{"c":"Swaziland","y":1845,"v":0.2},{"c":"Swaziland","y":1850,"v":0.2},{"c":"Swaziland","y":1855,"v":0.2},{"c":"Swaziland","y":1860,"v":0.2},{"c":"Swaziland","y":1865,"v":0.2},{"c":"Swaziland","y":1870,"v":0.2},{"c":"Swaziland","y":1875,"v":0.2},{"c":"Swaziland","y":1880,"v":0.2},{"c":"Swaziland","y":1885,"v":0.2},{"c":"Swaziland","y":1890,"v":0.2},{"c":"Swaziland","y":1895,"v":0.5},{"c":"Swaziland","y":1900,"v":1},{"c":"Swaziland","y":1905,"v":1.5},{"c":"Swaziland","y":1910,"v":2},{"c":"Swaziland","y":1915,"v":3},{"c":"Swaziland","y":1920,"v":4},{"c":"Swaziland","y":1925,"v":5},{"c":"Swaziland","y":1930,"v":6},{"c":"Swaziland","y":1935,"v":10},{"c":"Swaziland","y":1940,"v":18},{"c":"Swaziland","y":1945,"v":30},{"c":"Swaziland","y":1950,"v":40},{"c":"Swaziland","y":1955,"v":49},{"c":"Swaziland","y":1960,"v":45},{"c":"Swaziland","y":1965,"v":62},{"c":"Swaziland","y":1970,"v":70},{"c":"Swaziland","y":1975,"v":75},{"c":"Swaziland","y":1980,"v":80},{"c":"Swaziland","y":1985,"v":85},{"c":"Swaziland","y":1990,"v":88},{"c":"Swaziland","y":1995,"v":95},{"c":"Swaziland","y":2000,"v":92},{"c":"Swaziland","y":2005,"v":93},{"c":"Swaziland","y":2010,"v":95},
{"c":"Togo","y":1820,"v":0},{"c":"Togo","y":1825,"v":0},{"c":"Togo","y":1830,"v":0},{"c":"Togo","y":1835,"v":0},{"c":"Togo","y":1840,"v":0},{"c":"Togo","y":1845,"v":0},{"c":"Togo","y":1850,"v":0},{"c":"Togo","y":1855,"v":0},{"c":"Togo","y":1860,"v":0},{"c":"Togo","y":1865,"v":0},{"c":"Togo","y":1870,"v":0},{"c":"Togo","y":1875,"v":0},{"c":"Togo","y":1880,"v":0},{"c":"Togo","y":1885,"v":0.2},{"c":"Togo","y":1890,"v":0.5},{"c":"Togo","y":1895,"v":1},{"c":"Togo","y":1900,"v":1.5},{"c":"Togo","y":1905,"v":2.5},{"c":"Togo","y":1910,"v":3.5},{"c":"Togo","y":1915,"v":4},{"c":"Togo","y":1920,"v":4.5},{"c":"Togo","y":1925,"v":4.5},{"c":"Togo","y":1930,"v":4.5},{"c":"Togo","y":1935,"v":5},{"c":"Togo","y":1940,"v":5},{"c":"Togo","y":1945,"v":6},{"c":"Togo","y":1950,"v":17.6},{"c":"Togo","y":1955,"v":22},{"c":"Togo","y":1960,"v":33},{"c":"Togo","y":1965,"v":42},{"c":"Togo","y":1970,"v":55},{"c":"Togo","y":1975,"v":62},{"c":"Togo","y":1980,"v":88},{"c":"Togo","y":1985,"v":64},{"c":"Togo","y":1990,"v":72},{"c":"Togo","y":1995,"v":70},{"c":"Togo","y":2000,"v":78},{"c":"Togo","y":2005,"v":84},{"c":"Togo","y":2010,"v":98},
{"c":"Tunisia","y":1820,"v":0.5},{"c":"Tunisia","y":1825,"v":0.5},{"c":"Tunisia","y":1830,"v":0.5},{"c":"Tunisia","y":1835,"v":0.5},{"c":"Tunisia","y":1840,"v":0.5},{"c":"Tunisia","y":1845,"v":0.5},{"c":"Tunisia","y":1850,"v":0.5},{"c":"Tunisia","y":1855,"v":0.5},{"c":"Tunisia","y":1860,"v":0.5},{"c":"Tunisia","y":1865,"v":0.5},{"c":"Tunisia","y":1870,"v":0.5},{"c":"Tunisia","y":1875,"v":0.5},{"c":"Tunisia","y":1880,"v":0.5},{"c":"Tunisia","y":1885,"v":1},{"c":"Tunisia","y":1890,"v":1.2},{"c":"Tunisia","y":1895,"v":1.5},{"c":"Tunisia","y":1900,"v":2},{"c":"Tunisia","y":1905,"v":2.5},{"c":"Tunisia","y":1910,"v":3},{"c":"Tunisia","y":1915,"v":3.5},{"c":"Tunisia","y":1920,"v":4},{"c":"Tunisia","y":1925,"v":5},{"c":"Tunisia","y":1930,"v":6},{"c":"Tunisia","y":1935,"v":8},{"c":"Tunisia","y":1940,"v":10},{"c":"Tunisia","y":1945,"v":12},{"c":"Tunisia","y":1950,"v":18},{"c":"Tunisia","y":1955,"v":28},{"c":"Tunisia","y":1960,"v":48},{"c":"Tunisia","y":1965,"v":66},{"c":"Tunisia","y":1970,"v":75},{"c":"Tunisia","y":1975,"v":75},{"c":"Tunisia","y":1980,"v":82},{"c":"Tunisia","y":1985,"v":94},{"c":"Tunisia","y":1990,"v":96},{"c":"Tunisia","y":1995,"v":92},{"c":"Tunisia","y":2000,"v":97},{"c":"Tunisia","y":2005,"v":98},{"c":"Tunisia","y":2010,"v":99},
{"c":"Uganda","y":1820,"v":0},{"c":"Uganda","y":1825,"v":0},{"c":"Uganda","y":1830,"v":0},{"c":"Uganda","y":1835,"v":0},{"c":"Uganda","y":1840,"v":0},{"c":"Uganda","y":1845,"v":0},{"c":"Uganda","y":1850,"v":0},{"c":"Uganda","y":1855,"v":0},{"c":"Uganda","y":1860,"v":0},{"c":"Uganda","y":1865,"v":0},{"c":"Uganda","y":1870,"v":0},{"c":"Uganda","y":1875,"v":0},{"c":"Uganda","y":1880,"v":0},{"c":"Uganda","y":1885,"v":0},{"c":"Uganda","y":1890,"v":0},{"c":"Uganda","y":1895,"v":0},{"c":"Uganda","y":1900,"v":0},{"c":"Uganda","y":1905,"v":0.2},{"c":"Uganda","y":1910,"v":0.3},{"c":"Uganda","y":1915,"v":0.5},{"c":"Uganda","y":1920,"v":0.5},{"c":"Uganda","y":1925,"v":0.7},{"c":"Uganda","y":1930,"v":1},{"c":"Uganda","y":1935,"v":2},{"c":"Uganda","y":1940,"v":8},{"c":"Uganda","y":1945,"v":17},{"c":"Uganda","y":1950,"v":27},{"c":"Uganda","y":1955,"v":35},{"c":"Uganda","y":1960,"v":40},{"c":"Uganda","y":1965,"v":55},{"c":"Uganda","y":1970,"v":34},{"c":"Uganda","y":1975,"v":40},{"c":"Uganda","y":1980,"v":43},{"c":"Uganda","y":1985,"v":58},{"c":"Uganda","y":1990,"v":60},{"c":"Uganda","y":1995,"v":65},{"c":"Uganda","y":2000,"v":100},{"c":"Uganda","y":2005,"v":100},{"c":"Uganda","y":2010,"v":99},
{"c":"Zambia","y":1820,"v":0},{"c":"Zambia","y":1825,"v":0},{"c":"Zambia","y":1830,"v":0},{"c":"Zambia","y":1835,"v":0},{"c":"Zambia","y":1840,"v":0},{"c":"Zambia","y":1845,"v":0},{"c":"Zambia","y":1850,"v":0},{"c":"Zambia","y":1855,"v":0},{"c":"Zambia","y":1860,"v":0},{"c":"Zambia","y":1865,"v":0},{"c":"Zambia","y":1870,"v":0},{"c":"Zambia","y":1875,"v":0},{"c":"Zambia","y":1880,"v":0},{"c":"Zambia","y":1885,"v":0},{"c":"Zambia","y":1890,"v":0},{"c":"Zambia","y":1895,"v":0},{"c":"Zambia","y":1900,"v":0},{"c":"Zambia","y":1905,"v":0},{"c":"Zambia","y":1910,"v":0},{"c":"Zambia","y":1915,"v":0},{"c":"Zambia","y":1920,"v":0},{"c":"Zambia","y":1925,"v":0.5},{"c":"Zambia","y":1930,"v":2},{"c":"Zambia","y":1935,"v":8},{"c":"Zambia","y":1940,"v":18},{"c":"Zambia","y":1945,"v":30},{"c":"Zambia","y":1950,"v":43},{"c":"Zambia","y":1955,"v":46},{"c":"Zambia","y":1960,"v":47},{"c":"Zambia","y":1965,"v":62},{"c":"Zambia","y":1970,"v":80},{"c":"Zambia","y":1975,"v":83},{"c":"Zambia","y":1980,"v":85},{"c":"Zambia","y":1985,"v":87},{"c":"Zambia","y":1990,"v":89},{"c":"Zambia","y":1995,"v":87},{"c":"Zambia","y":2000,"v":79},{"c":"Zambia","y":2005,"v":99},{"c":"Zambia","y":2010,"v":100},
{"c":"Zimbabwe","y":1820,"v":0},{"c":"Zimbabwe","y":1825,"v":0},{"c":"Zimbabwe","y":1830,"v":0},{"c":"Zimbabwe","y":1835,"v":0},{"c":"Zimbabwe","y":1840,"v":0},{"c":"Zimbabwe","y":1845,"v":0},{"c":"Zimbabwe","y":1850,"v":0},{"c":"Zimbabwe","y":1855,"v":0},{"c":"Zimbabwe","y":1860,"v":0},{"c":"Zimbabwe","y":1865,"v":0},{"c":"Zimbabwe","y":1870,"v":0},{"c":"Zimbabwe","y":1875,"v":0},{"c":"Zimbabwe","y":1880,"v":0},{"c":"Zimbabwe","y":1885,"v":0.2},{"c":"Zimbabwe","y":1890,"v":0.5},{"c":"Zimbabwe","y":1895,"v":1.2},{"c":"Zimbabwe","y":1900,"v":2.5},{"c":"Zimbabwe","y":1905,"v":5},{"c":"Zimbabwe","y":1910,"v":10},{"c":"Zimbabwe","y":1915,"v":20},{"c":"Zimbabwe","y":1920,"v":31.5},{"c":"Zimbabwe","y":1925,"v":49},{"c":"Zimbabwe","y":1930,"v":66},{"c":"Zimbabwe","y":1935,"v":59},{"c":"Zimbabwe","y":1940,"v":51.6},{"c":"Zimbabwe","y":1945,"v":59},{"c":"Zimbabwe","y":1950,"v":66},{"c":"Zimbabwe","y":1955,"v":80.4},{"c":"Zimbabwe","y":1960,"v":74.4},{"c":"Zimbabwe","y":1965,"v":85},{"c":"Zimbabwe","y":1970,"v":57},{"c":"Zimbabwe","y":1975,"v":56},{"c":"Zimbabwe","y":1980,"v":68},{"c":"Zimbabwe","y":1985,"v":100},{"c":"Zimbabwe","y":1990,"v":90.7},{"c":"Zimbabwe","y":1995,"v":90.7},{"c":"Zimbabwe","y":2000,"v":99},{"c":"Zimbabwe","y":2005,"v":97},{"c":"Zimbabwe","y":2010,"v":98}
]},
"mark": {"type": "line", "strokeWidth": 3, "point": {"filled": true, "size": 26}},
"encoding": {
  "x": {"field": "y", "type": "quantitative",
    "scale": {"domain": [1820, 2010], "nice": false, "zero": false},
    "axis": {"title": "Χρονολογία", "values": [1820,1840,1860,1880,1900,1920,1940,1960,1980,2010], "format": "d",
      "labelFont": "Liberation Sans Narrow", "labelFontSize": 18, "labelColor": "#222", "labelPadding": 4, "labelFlush": false,
      "ticks": false, "domainColor": "#111", "domainDash": [4, 2], "domainWidth": 2,
      "grid": true, "gridDash": [4, 3], "gridColor": "#c4c4c4", "gridWidth": 1,
      "titleFont": "Arial", "titleFontSize": 20, "titleFontWeight": "normal", "titleColor": "#333", "titlePadding": 12, "titleX": 407}},
  "y": {"field": "v", "type": "quantitative",
    "scale": {"domain": [0, 100], "nice": false},
    "axis": {"title": ["Ποσοστό εγγραφής στην πρωτοβάθμια", "εκπαίδευση"], "values": [0,10,20,30,40,50,60,70,80,90,100],
      "labelExpr": "datum.value + '%'", "labelFont": "Arial", "labelFontSize": 18, "labelColor": "#222", "labelPadding": 5,
      "ticks": false, "domainColor": "#333", "domainWidth": 2,
      "grid": true, "gridDash": [4, 3], "gridColor": "#c4c4c4", "gridWidth": 1,
      "titleFont": "Arial", "titleFontSize": 22, "titleFontWeight": "normal", "titleColor": "#444", "titlePadding": 46, "titleLineHeight": 30, "titleY": 205}},
  "color": {"field": "c", "type": "nominal",
    "scale": {
      "domain": ["Algeria","Benin","Cameroon","Cote d'Ivoire","Democratic Republic of Congo","Egypt","Gambia","Ghana","Kenya","Lesotho","Liberia","Libya","Malawi","Mali","Mauritius","Morocco","Mozambique","Nicaragua","Niger","Reunion","Sierra Leone","South Africa","Sudan","Swaziland","Togo","Tunisia","Uganda","Zambia","Zimbabwe"],
      "range": ["#ee6a2e","#de3a66","#a55a48","#e5312f","#6ab336","#fdd43c","#f07e5b","#b079b4","#8e2233","#684c9b","#5cb97c","#f6a623","#28949a","#7b7b7b","#7fc7cf","#fae98b","#d1cd22","#568489","#cc8ec3","#a0cf8a","#dc1e48","#f9bc8d","#d06b63","#c9c9c9","#4b8cf0","#fe333d","#4bd45c","#fe9940","#fe4f8f"]},
    "legend": {"title": null, "orient": "none", "legendX": -62, "legendY": -176, "direction": "horizontal",
      "columns": 8, "columnPadding": 3, "rowPadding": 2, "padding": 0,
      "symbolType": "square", "symbolSize": 400, "symbolStrokeWidth": 0,
      "labelColor": "white", "labelFont": "Arial", "labelFontSize": 16, "labelOffset": -9, "labelLimit": 0,
      "encode": {"symbols": {"update": {
        "shape": {"signal": "'M-1,-1.8H' + ((14 + 8.5*length(datum.label))/10) + 'V1.8H-1Z'"},
        "fill": {"scale": "color", "field": "value"},
        "fillOpacity": {"value": 1}, "opacity": {"value": 1}, "strokeWidth": {"value": 0}}}}}}
}
}
